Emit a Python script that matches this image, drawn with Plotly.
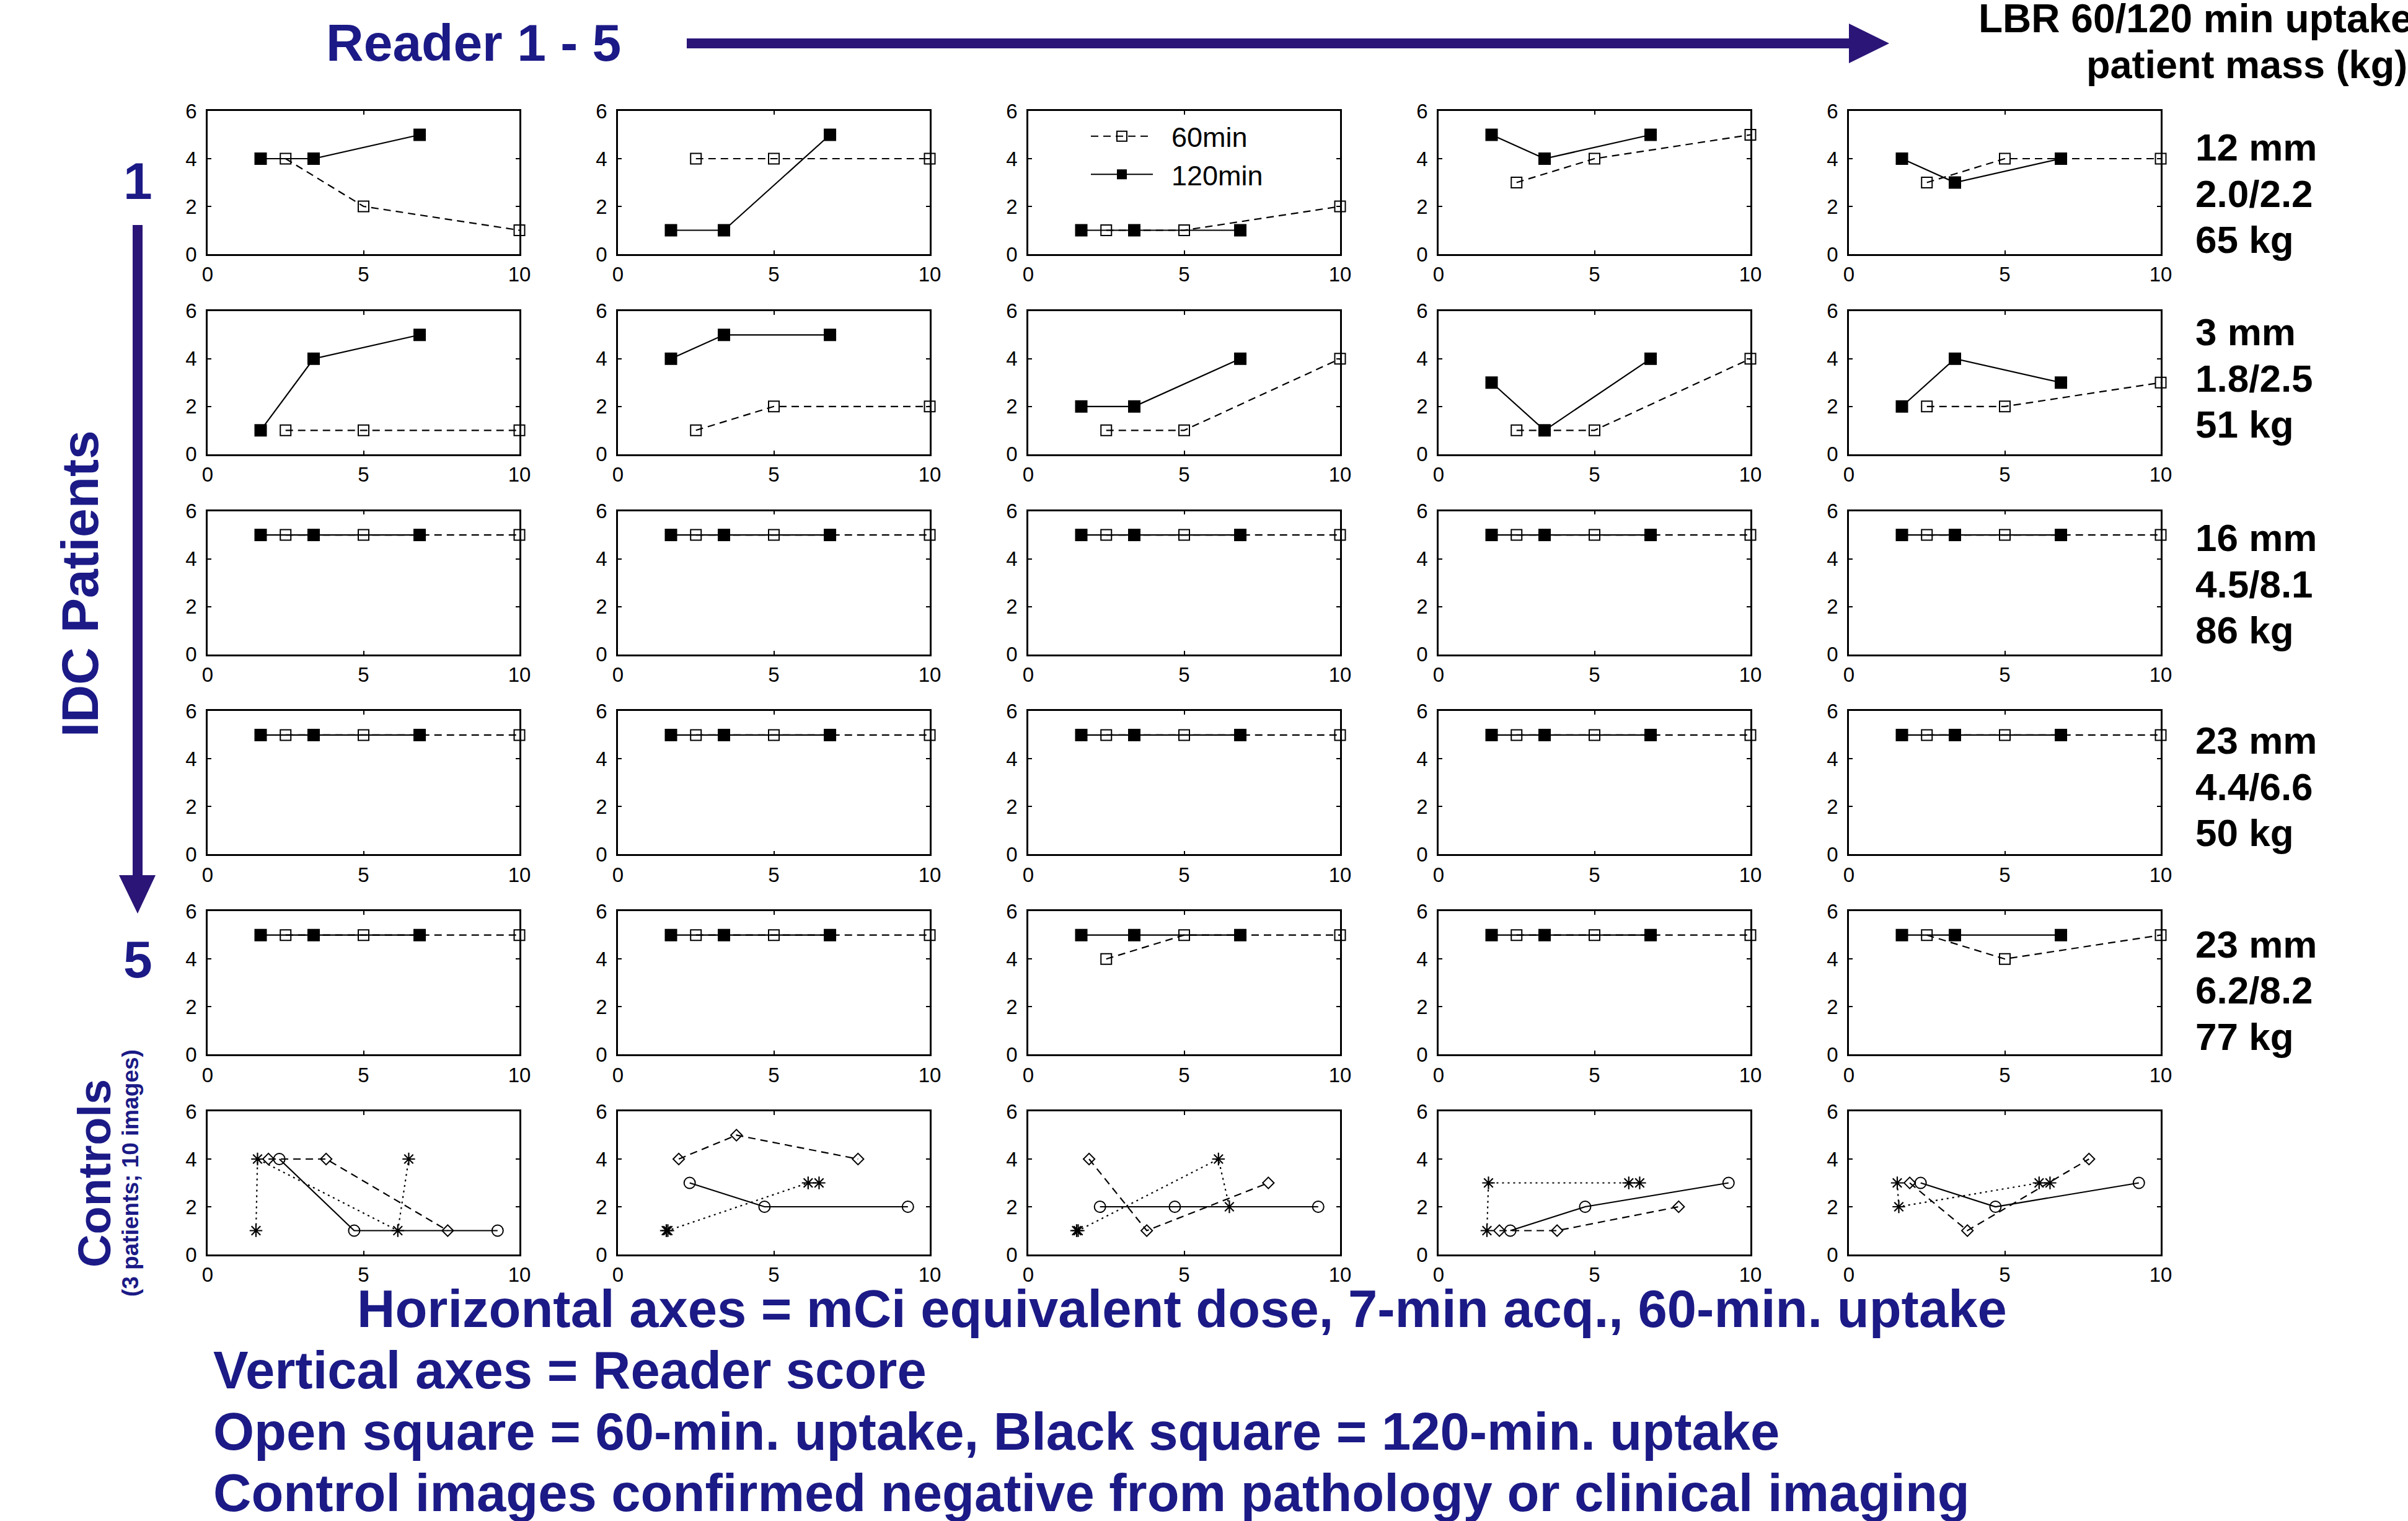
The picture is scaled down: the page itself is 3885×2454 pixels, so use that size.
import plotly.graph_objects as go

W, H = 3885, 2454
FONT = "Liberation Sans, Arial, Helvetica, sans-serif"
NAVY = "#1b1a86"
ARROW = "#2b1577"

# ---------------- data ----------------
x_60min = [2.5, 5.0, 10.0]          # mCi equivalent dose, 60-min uptake
x_120min = [1.7, 3.4, 6.8]          # mCi equivalent dose, 120-min uptake

# reader scores: rows = IDC patients 1..5, cols = readers 1..5
score_60min = [
    [[4, 2, 1], [4, 4, 4], [1, 1, 2], [3, 4, 5], [3, 4, 4]],
    [[1, 1, 1], [1, 2, 2], [1, 1, 4], [1, 1, 4], [2, 2, 3]],
    [[5, 5, 5], [5, 5, 5], [5, 5, 5], [5, 5, 5], [5, 5, 5]],
    [[5, 5, 5], [5, 5, 5], [5, 5, 5], [5, 5, 5], [5, 5, 5]],
    [[5, 5, 5], [5, 5, 5], [4, 5, 5], [5, 5, 5], [5, 4, 5]],
]
score_120min = [
    [[4, 4, 5], [1, 1, 5], [1, 1, 1], [5, 4, 5], [4, 3, 4]],
    [[1, 4, 5], [4, 5, 5], [2, 2, 4], [3, 1, 4], [2, 4, 3]],
    [[5, 5, 5], [5, 5, 5], [5, 5, 5], [5, 5, 5], [5, 5, 5]],
    [[5, 5, 5], [5, 5, 5], [5, 5, 5], [5, 5, 5], [5, 5, 5]],
    [[5, 5, 5], [5, 5, 5], [5, 5, 5], [5, 5, 5], [5, 5, 5]],
]

# controls (3 patients; 10 images)
x_ctrl_circle = [2.3, 4.7, 9.3]
x_ctrl_diamond = [1.95, 3.8, 7.7]
x_ctrl_asterisk = [1.55, 1.6, 6.1, 6.45]
ctrl_circle = [[4, 1, 1], [3, 2, 2], [2, 2, 2], [1, 2, 3], [3, 2, 3]]
ctrl_diamond = [[4, 4, 1], [4, 5, 4], [4, 1, 3], [1, 1, 2], [3, 1, 4]]
ctrl_asterisk = [[1, 4, 1, 4], [1, 1, 3, 3], [1, 1, 4, 2], [1, 3, 3, 3], [3, 2, 3, 3]]

lesion_size = ["12 mm", "3 mm", "16 mm", "23 mm", "23 mm"]
lbr_ratio = ["2.0/2.2", "1.8/2.5", "4.5/8.1", "4.4/6.6", "6.2/8.2"]
patient_mass = ["65 kg", "51 kg", "86 kg", "50 kg", "77 kg"]

x_ticks = [0, 5, 10]
y_ticks = [0, 2, 4, 6]

# ---------------- layout geometry (pixels) ----------------
COL_LEFT0, COL_PITCH, BOX_W = 335, 662, 503
ROW_TOP0, ROW_PITCH, BOX_H = 179, 322.8, 231
LABEL_MID_Y = [312, 610, 942, 1269, 1598]   # centre line of right-hand label blocks


def px(x):
    return x / W


def py(y):
    return 1 - y / H


fig = go.Figure()
layout_axes = {}


def axis_id(n):
    return "" if n == 1 else str(n)


for r in range(6):
    for c in range(5):
        n = r * 5 + c + 1
        s = axis_id(n)
        xa, ya = "x" + s, "y" + s
        left = COL_LEFT0 + COL_PITCH * c
        top = ROW_TOP0 + ROW_PITCH * r
        common = dict(
            ticks="inside", ticklen=6, tickwidth=2, tickcolor="black",
            showline=True, linecolor="black", linewidth=2.5, mirror="ticks",
            showgrid=False, zeroline=False, fixedrange=True, automargin=False,
            tickfont=dict(family=FONT, size=33, color="black"),
        )
        layout_axes["xaxis" + s] = dict(
            common, domain=[px(left), px(left + BOX_W)], range=[0, 10],
            tickvals=x_ticks, anchor=ya, ticklabelstandoff=2,
        )
        layout_axes["yaxis" + s] = dict(
            common, domain=[py(top + BOX_H), py(top)], range=[0, 6],
            tickvals=y_ticks, anchor=xa, ticklabelstandoff=8,
        )
        if r < 5:
            fig.add_trace(go.Scatter(
                x=x_60min, y=score_60min[r][c], xaxis=xa, yaxis=ya,
                mode="lines+markers", name="\u00a0\u00a060min", cliponaxis=False,
                showlegend=(r == 0 and c == 2),
                line=dict(color="black", width=2.2, dash="12px,8px"),
                marker=dict(symbol="square-open", size=17, color="black",
                            line=dict(width=2, color="black")),
            ))
            fig.add_trace(go.Scatter(
                x=x_120min, y=score_120min[r][c], xaxis=xa, yaxis=ya,
                mode="lines+markers", name="\u00a0\u00a0120min", cliponaxis=False,
                showlegend=(r == 0 and c == 2),
                line=dict(color="black", width=2.2),
                marker=dict(symbol="square", size=20, color="black"),
            ))
        else:
            fig.add_trace(go.Scatter(
                x=x_ctrl_circle, y=ctrl_circle[c], xaxis=xa, yaxis=ya,
                mode="lines+markers", showlegend=False, cliponaxis=False,
                line=dict(color="black", width=2.2),
                marker=dict(symbol="circle-open", size=18, color="black",
                            line=dict(width=2, color="black")),
            ))
            fig.add_trace(go.Scatter(
                x=x_ctrl_diamond, y=ctrl_diamond[c], xaxis=xa, yaxis=ya,
                mode="lines+markers", showlegend=False, cliponaxis=False,
                line=dict(color="black", width=2.2, dash="12px,8px"),
                marker=dict(symbol="diamond-open", size=14, color="black",
                            line=dict(width=2, color="black")),
            ))
            fig.add_trace(go.Scatter(
                x=x_ctrl_asterisk, y=ctrl_asterisk[c], xaxis=xa, yaxis=ya,
                mode="lines+markers", showlegend=False, cliponaxis=False,
                line=dict(color="black", width=2.2, dash="3px,6px"),
                marker=dict(symbol="asterisk-open", size=17, color="black",
                            line=dict(width=2.2, color="black")),
            ))

annotations = []


def note(text, x, y, size, color="black", bold=True, xanchor="center", angle=0):
    annotations.append(dict(
        text=f"<b>{text}</b>" if bold else text, x=px(x), y=py(y),
        xref="paper", yref="paper", showarrow=False, xanchor=xanchor,
        yanchor="middle", textangle=angle,
        font=dict(family=FONT, size=size, color=color),
    ))


note("Reader 1 - 5", 764, 69, 84, NAVY)
note("LBR 60/120 min uptake", 3190, 30, 64, xanchor="left")
note("patient mass (kg)", 3364, 104, 63, xanchor="left")
note("1", 222, 292, 84, NAVY)
note("5", 222, 1548, 84, NAVY)
note("IDC Patients", 129, 942, 84, NAVY, angle=-90)
note("Controls", 152, 1893, 74, NAVY, angle=-90)
note("(3 patients; 10 images)", 210, 1893, 37, NAVY, angle=-90)

note("Horizontal axes = mCi equivalent dose, 7-min acq., 60-min. uptake", 574, 2111, 85, NAVY, xanchor="left")
note("Vertical axes = Reader score", 342, 2210, 85, NAVY, xanchor="left")
note("Open square = 60-min. uptake, Black square = 120-min. uptake", 342, 2309, 85, NAVY, xanchor="left")
note("Control images confirmed negative from pathology or clinical imaging", 342, 2408, 85, NAVY, xanchor="left")

for r in range(5):
    mid = LABEL_MID_Y[r]
    for k, txt in enumerate([lesion_size[r], lbr_ratio[r], patient_mass[r]]):
        note(txt, 3540, mid + (k - 1) * 74.5, 62, xanchor="left")


def poly(points):
    return "M " + " L ".join(f"{px(a):.6f},{py(b):.6f}" for a, b in points) + " Z"


shapes = [
    dict(type="path", xref="paper", yref="paper", fillcolor=ARROW, line=dict(width=0),
         path=poly([(1108, 62), (2983, 62), (2983, 38), (3048, 70),
                    (2983, 102), (2983, 78), (1108, 78)])),
    dict(type="path", xref="paper", yref="paper", fillcolor=ARROW, line=dict(width=0),
         path=poly([(214, 363), (230, 363), (230, 1412), (251, 1412), (222, 1474),
                    (192, 1412), (214, 1412)])),
]

fig.update_layout(
    width=W, height=H, autosize=False,
    margin=dict(l=0, r=0, t=0, b=0, pad=0, autoexpand=False),
    paper_bgcolor="white", plot_bgcolor="white",
    annotations=annotations, shapes=shapes,
    legend=dict(x=px(1755), y=py(184), xanchor="left", yanchor="top",
                bgcolor="rgba(0,0,0,0)", borderwidth=0, itemwidth=100,
                font=dict(family=FONT, size=45, color="black"),
                tracegroupgap=0),
    **layout_axes,
)

fig.write_html("out.html")
